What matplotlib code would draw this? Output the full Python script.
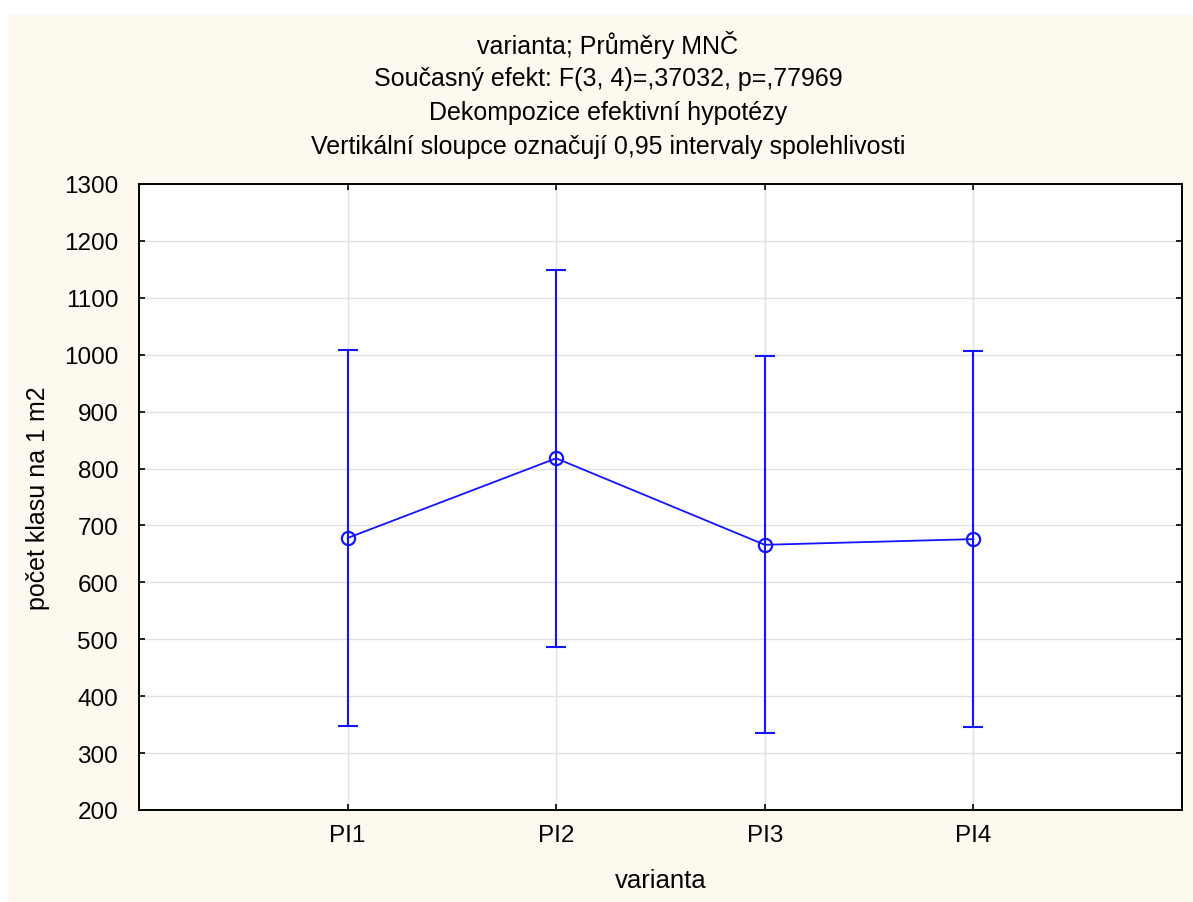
import matplotlib
matplotlib.use("Agg")
import matplotlib.pyplot as plt
from matplotlib.patches import Rectangle

plt.rcParams['font.family'] = ['Liberation Sans', 'DejaVu Sans']

categories = ["PI1", "PI2", "PI3", "PI4"]
means = [678, 818, 666, 676]
lower = [348, 487, 335, 345]
upper = [1008, 1149, 997, 1007]
title_lines = [
    "varianta; Průměry MNČ",
    "Současný efekt: F(3, 4)=,37032, p=,77969",
    "Dekompozice efektivní hypotézy",
    "Vertikální sloupce označují 0,95 intervaly spolehlivosti",
]
yticks = list(range(200, 1301, 100))

W, H = 1193, 903
fig = plt.figure(figsize=(W / 100, H / 100), dpi=100)
fig.patch.set_facecolor("white")
fig.patches.append(Rectangle((8 / W, 0), 1 - 8 / W, 1 - 16 / H, transform=fig.transFigure,
                             facecolor="#fdf9ee", edgecolor="none", zorder=-10))

ax = fig.add_axes([139 / W, 1 - 811 / H, (1182 - 139) / W, (811 - 185) / H])
ax.set_facecolor("white")

x = list(range(1, len(categories) + 1))
yerr_lo = [m - l for m, l in zip(means, lower)]
yerr_hi = [u - m for m, u in zip(means, upper)]
blue = "#1414ff"
ax.errorbar(x, means, yerr=[yerr_lo, yerr_hi], fmt="none", ecolor=blue,
            elinewidth=1.5, capsize=7.5, capthick=1.5, zorder=3)
ax.plot(x, means, color=blue, linewidth=1.3, marker="o", markersize=9.5,
        markerfacecolor="none", markeredgecolor=blue, markeredgewidth=1.6, zorder=4)

ax.set_xlim(0, 5)
ax.set_ylim(200, 1300)
ax.set_xticks(x)
ax.set_xticklabels(categories)
ax.set_yticks(yticks)
ax.grid(True, color="#e2e2e2", linewidth=1)
ax.set_axisbelow(True)
ax.tick_params(direction="in", length=4, width=1.2, labelsize=17.5, top=True, right=True,
               colors="black")
ax.tick_params(axis="y", pad=15)
ax.tick_params(axis="x", pad=10)
for s in ax.spines.values():
    s.set_linewidth(1.4)

ax.set_xlabel("varianta", fontsize=18.5, labelpad=16)
ax.set_ylabel("počet klasu na 1 m2", fontsize=18, labelpad=10)

ys = [45, 79, 113, 147]
for t, yy in zip(title_lines, ys):
    fig.text(608 / W, 1 - yy / H, t, ha="center", va="center", fontsize=18)

fig.savefig("out.png", dpi=100, facecolor=fig.get_facecolor())
